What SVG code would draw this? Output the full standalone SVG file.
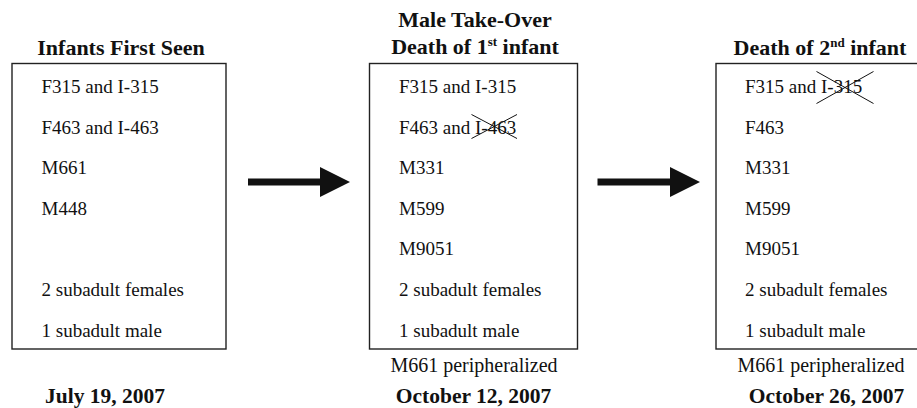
<svg xmlns="http://www.w3.org/2000/svg" width="917" height="408" viewBox="0 0 917 408">
<style>
.box{fill:#fff;stroke:#222;stroke-width:1.4}
.t{font-family:"Liberation Serif","Times New Roman",serif;font-size:19px;fill:#111}
.p{font-family:"Liberation Serif","Times New Roman",serif;font-size:20px;fill:#111;text-anchor:middle}
.h{font-family:"Liberation Serif","Times New Roman",serif;font-size:22px;font-weight:bold;fill:#111;text-anchor:middle}
.d{font-family:"Liberation Serif","Times New Roman",serif;font-size:21.5px;font-weight:bold;fill:#111;text-anchor:middle}
.x{stroke:#111;stroke-width:1;fill:none}
.arrow{fill:#111}
</style>
<rect width="917" height="408" fill="#fff"/>
<g id="node-july">
<text class="h" x="121" y="55">Infants First Seen</text>
<rect class="box" x="12" y="63.5" width="214" height="285.5"/>
<text class="t" x="41.5" y="93">F315 and I-315</text>
<text class="t" x="41.5" y="133.5">F463 and I-463</text>
<text class="t" x="41.5" y="174">M661</text>
<text class="t" x="41.5" y="214.5">M448</text>
<text class="t" x="41.5" y="296">2 subadult females</text>
<text class="t" x="41.5" y="336.5">1 subadult male</text>
<text class="d" x="105" y="403">July 19, 2007</text>
</g>
<g id="node-oct12">
<text class="h" x="475" y="27">Male Take-Over</text>
<text class="h" x="475" y="54">Death of 1<tspan font-size="13" dy="-8">st</tspan><tspan dy="8"> infant</tspan></text>
<rect class="box" x="369.5" y="63.5" width="208" height="285.5"/>
<text class="t" x="399" y="93">F315 and I-315</text>
<text class="t" x="399" y="133.5">F463 and I-463</text>
<path class="x" d="M471.5 114.5 L517 138.5 M471.5 138.5 L517 114.5"/>
<text class="t" x="399" y="174">M331</text>
<text class="t" x="399" y="214.5">M599</text>
<text class="t" x="399" y="255">M9051</text>
<text class="t" x="399" y="296">2 subadult females</text>
<text class="t" x="399" y="336.5">1 subadult male</text>
<text class="p" x="474" y="371.5">M661 peripheralized</text>
<text class="d" x="473.5" y="403">October 12, 2007</text>
</g>
<g id="node-oct26">
<text class="h" x="820" y="55">Death of 2<tspan font-size="13" dy="-8">nd</tspan><tspan dy="8"> infant</tspan></text>
<rect class="box" x="716" y="63.5" width="210" height="285.5"/>
<text class="t" x="745" y="93">F315 and I-315</text>
<path class="x" d="M816.5 71.5 L873.5 103.5 M816.5 103.5 L873.5 71.5"/>
<text class="t" x="745" y="133.5">F463</text>
<text class="t" x="745" y="174">M331</text>
<text class="t" x="745" y="214.5">M599</text>
<text class="t" x="745" y="255">M9051</text>
<text class="t" x="745" y="296">2 subadult females</text>
<text class="t" x="745" y="336.5">1 subadult male</text>
<text class="p" x="821" y="371.5">M661 peripheralized</text>
<text class="d" x="826.5" y="403">October 26, 2007</text>
</g>
<g id="connectors">
<polygon class="arrow" points="248,178.5 320,178.5 320,167 350,182 320,197 320,185.5 248,185.5"/>
<polygon class="arrow" points="597.5,178.5 670,178.5 670,167 700,182 670,197 670,185.5 597.5,185.5"/>
</g>
</svg>
